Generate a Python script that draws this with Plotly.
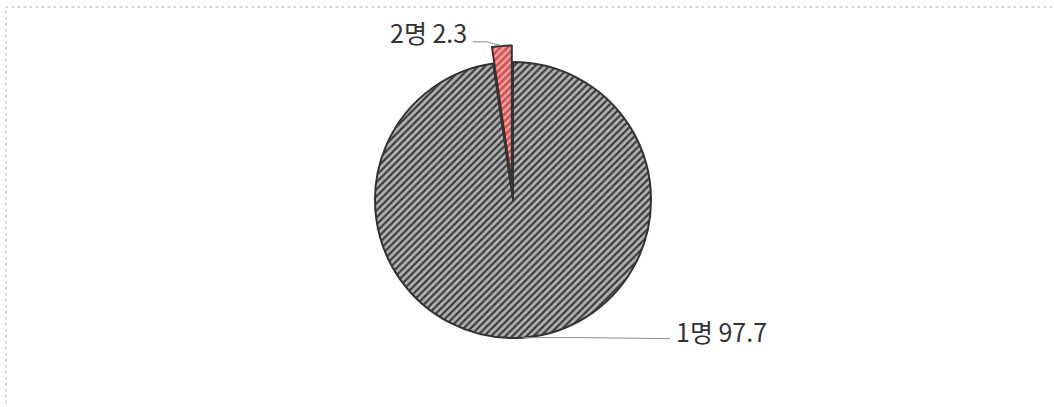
import math
import plotly.graph_objects as go

# Data
labels = ["2명", "1명"]
values = [2.3, 97.7]
text_labels = ["2명 2.3", "1명 97.7"]

W, H = 1054, 407
CX, CY, R = 513, 200, 138   # pie centre / radius in px (layout)
PULL = 0.12
pulls = [PULL, 0]
total = sum(values)
rotation = -values[0] / total * 360  # first slice sits just left of 12 o'clock

half = R * (1 + PULL)
dom_x = [(CX - half) / W, (CX + half) / W]
dom_y = [1 - (CY + half) / H, 1 - (CY - half) / H]

fig = go.Figure(go.Pie(
    labels=labels, values=values, sort=False, direction="counterclockwise", rotation=rotation,
    pull=pulls, textinfo="none", hoverinfo="label+value",
    domain=dict(x=dom_x, y=dom_y),
    marker=dict(
        colors=["#d85858", "#b0b0b0"],
        line=dict(color="#333333", width=2),
        pattern=dict(shape=["/", "/"], fgcolor=["#f2a8a8", "#3c3c3c"],
                     bgcolor=["#d65050", "#b2b2b2"], size=5, solidity=0.45),
    ),
    showlegend=False,
))

def px2paper(x, y):
    return x / W, 1 - y / H

shapes = []
annotations = []
cum = 0
for i, v in enumerate(values):
    mid = (cum + v / 2) / total * 360   # counterclockwise from top
    cum += v
    r_edge = R * (1 + pulls[i])
    ax = CX - r_edge * math.sin(math.radians(mid))
    ay = CY - r_edge * math.cos(math.radians(mid))
    if ax < CX:  # label on the left
        elbow = (ax - 15, ay - 4)
        end = (ax - 29, ay - 4)
        tx, xanchor, ty = end[0] - 4, "right", end[1] - 10
    else:
        elbow = (ax + 60, ay)
        end = (ax + 147, ay + 1)
        tx, xanchor, ty = end[0] + 4, "left", end[1] - 8
    pts = [px2paper(ax, ay), px2paper(*elbow), px2paper(*end)]
    path = "M {} {} L {} {} L {} {}".format(pts[0][0], pts[0][1], pts[1][0], pts[1][1], pts[2][0], pts[2][1])
    shapes.append(dict(type="path", xref="paper", yref="paper", path=path,
                       line=dict(color="#8c8c8c", width=1)))
    txp, typ = px2paper(tx, ty)
    annotations.append(dict(x=txp, y=typ, xref="paper", yref="paper", text=text_labels[i],
                            showarrow=False, xanchor=xanchor, yanchor="middle",
                            font=dict(family="Noto Sans CJK KR, Noto Sans, sans-serif", size=25, color="#333333")))

# dotted frame
shapes.append(dict(type="rect", xref="paper", yref="paper",
                   x0=6 / W, x1=1.02, y0=-0.02, y1=1 - 7 / H,
                   line=dict(color="#b0b0b0", width=1, dash="dot"), fillcolor="rgba(0,0,0,0)", layer="below"))

fig.update_layout(
    width=W, height=H, margin=dict(l=0, r=0, t=0, b=0),
    paper_bgcolor="white", plot_bgcolor="white",
    shapes=shapes, annotations=annotations,
)
fig.write_html("out.html", config={"displayModeBar": False},
               post_script="document.body.style.margin='0';document.body.style.overflow='hidden';")
